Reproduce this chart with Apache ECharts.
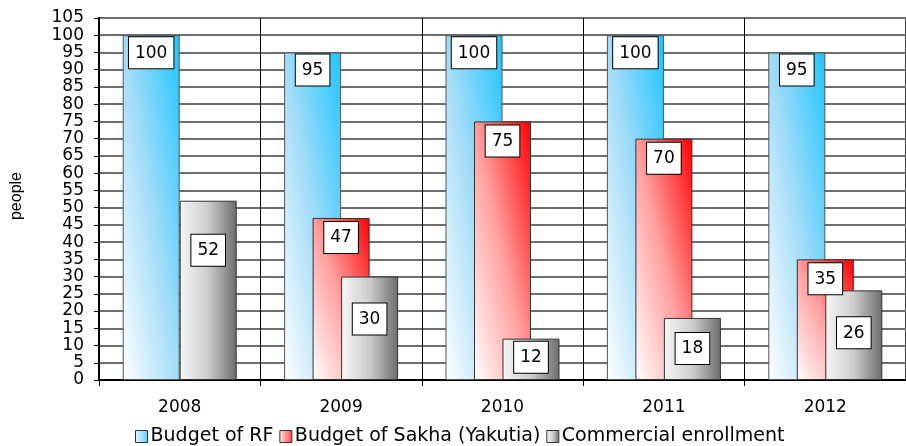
<!DOCTYPE html>
<html>
<head>
<meta charset="utf-8">
<script src="https://cdn.jsdelivr.net/npm/echarts@6/dist/echarts.min.js"></script>
<style>
html,body{margin:0;padding:0;background:#fff;}
#c{width:906px;height:446px;}
</style>
</head>
<body>
<div id="c"></div>
<script>
const years = ['2008', '2009', '2010', '2011', '2012'];
const budgetRF = [100, 95, 100, 100, 95];
const budgetSakha = [null, 47, 75, 70, 35];
const commercial = [52, 30, 12, 18, 26];
const seriesNames = ['Budget of RF', 'Budget of Sakha (Yakutia)', 'Commercial enrollment'];
const yTicks = { min: 0, max: 105, step: 5 };

// label nudges (px) for the commercial series, mimicking the reference's collision avoidance
const commercialLabelDrop = [32, 25, 1, 13, 25];

const FONT = 'DejaVu Sans';
const BAR_W = 57;

function stopsOf(stops) { return stops.map(([o, c]) => ({ offset: o, color: c })); }
// Diagonal (bottom-left -> top-right) gradient that scales with each bar's own box
function diagGrad(h, stops) {
  const w = BAR_W;
  const s = w * w + h * h;
  return { type: 'linear', x: 0, y: 1, x2: 2 * h * h / s, y2: 1 - 2 * w * w / s, colorStops: stopsOf(stops) };
}
function hGrad(stops) { return { type: 'linear', x: 0, y: 0, x2: 1, y2: 0, colorStops: stopsOf(stops) }; }

const blueStops = [[0, '#ffffff'], [0.5, '#a2dcf8'], [1, '#1ec6ff']];
const redStops = [[0, '#ffffff'], [0.5, '#ff9e9e'], [1, '#ff0000']];
const grayStops = [[0, '#f6f6f6'], [0.5, '#cdcdcd'], [1, '#6c6c6c']];

const labelBase = {
  show: true,
  position: 'insideTop',
  distance: 2,
  color: '#000',
  fontFamily: FONT,
  fontSize: 17,
  lineHeight: 20,
  backgroundColor: '#fff',
  borderColor: '#000',
  borderWidth: 1,
  padding: [6, 6, 5, 6]
};

const chart = echarts.init(document.getElementById('c'), null, { renderer: 'canvas' });

function buildSeries(hOf) {
  return [
    {
      name: seriesNames[0],
      type: 'bar',
      barWidth: BAR_W,
      barGap: '-50%',
      data: budgetRF.map(v => ({ value: v, itemStyle: { color: diagGrad(hOf(v), blueStops) } })),
      itemStyle: { color: hGrad([[0, '#eaf7fe'], [1, '#5fd2fc']]), borderColor: '#555', borderWidth: 1 },
      label: Object.assign({}, labelBase, { distance: 2 })
    },
    {
      name: seriesNames[1],
      type: 'bar',
      barWidth: BAR_W,
      barGap: '-50%',
      data: budgetSakha.map(v => v == null ? '-' : ({ value: v, itemStyle: { color: diagGrad(hOf(v), redStops) } })),
      itemStyle: { color: hGrad([[0, '#ffeaea'], [1, '#ff4040']]), borderColor: '#333', borderWidth: 1 },
      label: Object.assign({}, labelBase, { distance: 4 })
    },
    {
      name: seriesNames[2],
      type: 'bar',
      barWidth: BAR_W,
      barGap: '-50%',
      data: commercial.map((v, i) => ({ value: v, label: { offset: [0, commercialLabelDrop[i]] } })),
      itemStyle: { color: hGrad(grayStops), borderColor: '#333', borderWidth: 1 },
      label: Object.assign({}, labelBase, { distance: 2 })
    }
  ];
}

chart.setOption({
  animation: false,
  backgroundColor: '#fff',
  grid: { left: 99, top: 18, bottom: 66, right: -6, containLabel: false,
          show: true, borderColor: '#000', borderWidth: 1.5 },
  legend: {
    bottom: 0,
    left: 135,
    padding: 0,
    itemWidth: 12,
    itemHeight: 12,
    itemGap: 6,
    icon: 'rect',
    textStyle: { fontFamily: FONT, fontSize: 19, color: '#000', padding: [0, 0, 0, -2] },
    itemStyle: { borderColor: '#333', borderWidth: 1 },
    data: seriesNames
  },
  xAxis: {
    type: 'category',
    data: years,
    axisLine: { lineStyle: { color: '#000', width: 2 } },
    axisTick: { show: true, length: 6, lineStyle: { color: '#000' } },
    axisLabel: { fontFamily: FONT, fontSize: 17, color: '#000', margin: 19 },
    splitLine: { show: true, lineStyle: { color: '#000', width: 1 } }
  },
  yAxis: {
    type: 'value',
    min: yTicks.min,
    max: yTicks.max,
    interval: yTicks.step,
    name: 'people',
    nameLocation: 'middle',
    nameRotate: 90,
    nameGap: 74,
    nameTextStyle: { fontFamily: 'Liberation Sans', fontSize: 16, color: '#000', padding: [0, 0, 0, 6] },
    axisLine: { show: true, lineStyle: { color: '#000', width: 2 } },
    axisTick: { show: true, length: 5, lineStyle: { color: '#000' } },
    axisLabel: { fontFamily: FONT, fontSize: 17, color: '#000', margin: 15 },
    splitLine: { show: true, lineStyle: { color: '#6e6e6e', width: 2 } }
  },
  series: buildSeries(() => 300)
});

// second pass: give every bar a gradient sized to its own pixel height from the axis scale
const y0 = chart.convertToPixel({ yAxisIndex: 0 }, 0);
chart.setOption({ series: buildSeries(v => Math.max(1, y0 - chart.convertToPixel({ yAxisIndex: 0 }, v))) });
</script>
</body>
</html>
